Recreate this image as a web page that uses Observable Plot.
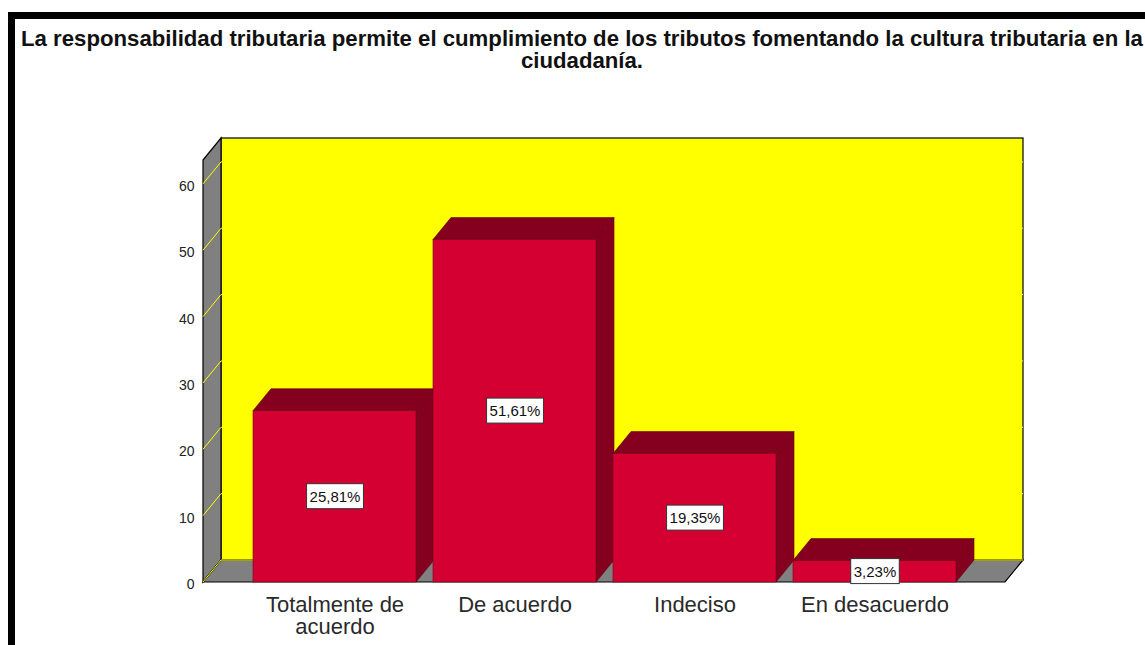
<!DOCTYPE html>
<html><head><meta charset="utf-8">
<script src="https://cdn.jsdelivr.net/npm/d3@7"></script>
<script src="https://cdn.jsdelivr.net/npm/@observablehq/plot@0.6"></script>
<style>
html,body{margin:0;padding:0;background:#fff;overflow:hidden;width:1145px;height:645px;}
#marco{position:absolute;left:8px;top:12px;width:1300px;height:800px;border-top:7px solid #000;border-left:7px solid #000;box-sizing:border-box;}
#titulo{position:absolute;left:15px;top:28px;width:1134px;text-align:center;font-family:"Liberation Sans",Arial,sans-serif;font-weight:bold;font-size:22.2px;line-height:22px;color:#111;white-space:nowrap;}
#grafico{position:absolute;left:0;top:90px;}
</style></head><body>
<div id="marco"></div>
<div id="titulo">La responsabilidad tributaria permite el cumplimiento de los tributos fomentando la cultura tributaria en la<br>ciudadanía.</div>
<div id="grafico"></div>
<script>
const categorias = ["Totalmente de acuerdo", "De acuerdo", "Indeciso", "En desacuerdo"];
const rotulosX = ["Totalmente de\nacuerdo", "De acuerdo", "Indeciso", "En desacuerdo"];
const porcentajes = [25.81, 51.61, 19.35, 3.23];
const etiquetas = ["25,81%", "51,61%", "19,35%", "3,23%"];
const ticksY = [0, 10, 20, 30, 40, 50, 60];
const yMax = 63.6;

const DX = 18, DY = -22;
const FONT = '"Liberation Sans", Arial, sans-serif';
const datos = categorias.map((c, i) => ({categoria: c, porcentaje: porcentajes[i], etiqueta: etiquetas[i], rotulo: rotulosX[i]}));

const pts = a => a.map(p => p.join(",")).join(" ");
let grupoEtiquetas = null;

const paredes = Plot.frame({
  stroke: "none",
  render(index, scales, values, dim) {
    const g = d3.create("svg:g");
    const x0 = dim.marginLeft, x1 = dim.width - dim.marginRight;
    const yb = scales.y(0), yt = scales.y(yMax);
    g.append("rect").attr("x", x0 + DX).attr("y", yt + DY).attr("width", x1 - x0).attr("height", yb - yt)
      .attr("fill", "#ffff00").attr("stroke", "#000").attr("stroke-width", 1.2);
    g.append("polygon").attr("points", pts([[x0, yb], [x0 + DX, yb + DY], [x0 + DX, yt + DY], [x0, yt]]))
      .attr("fill", "#808080").attr("stroke", "#000").attr("stroke-width", 1.2);
    g.append("polygon").attr("points", pts([[x0, yb], [x1, yb], [x1 + DX, yb + DY], [x0 + DX, yb + DY]]))
      .attr("fill", "#808080").attr("stroke", "#000").attr("stroke-width", 1.2);
    for (const t of ticksY) {
      const y = scales.y(t);
      g.append("polyline").attr("points", pts([[x0, y], [x0 + DX, y + DY], [x1 + DX, y + DY]]))
        .attr("fill", "none").attr("stroke", "#ffff00").attr("stroke-width", 1);
    }
    return g.node();
  }
});

const barras = Plot.barY(datos, {
  x: "categoria", y: "porcentaje", fill: "#d50032", stroke: "#6e0018", strokeWidth: 0.6,
  render(index, scales, values, dim, context, next) {
    const g = next(index, scales, values, dim, context);
    for (const r of Array.from(g.querySelectorAll("rect"))) {
      const x = +r.getAttribute("x"), y = +r.getAttribute("y");
      const w = +r.getAttribute("width"), h = +r.getAttribute("height");
      const mk = (p) => {
        const el = document.createElementNS("http://www.w3.org/2000/svg", "polygon");
        el.setAttribute("points", pts(p));
        el.setAttribute("fill", "#85001f");
        el.setAttribute("stroke", "#5a0014");
        el.setAttribute("stroke-width", 0.6);
        r.parentNode.insertBefore(el, r);
      };
      mk([[x, y], [x + w, y], [x + w + DX, y + DY], [x + DX, y + DY]]);
      mk([[x + w, y], [x + w + DX, y + DY], [x + w + DX, y + h + DY], [x + w, y + h]]);
    }
    return g;
  }
});

const chart = Plot.plot({
  width: 1145, height: 555,
  marginLeft: 203, marginRight: 140, marginTop: 70, marginBottom: 63,
  style: {fontFamily: FONT, background: "transparent", overflow: "visible"},
  x: {type: "band", domain: categorias, paddingInner: 0.097, paddingOuter: 0.27, axis: null},
  y: {domain: [0, yMax], axis: null},
  marks: [
    paredes,
    barras,
    Plot.text(ticksY, {y: d => d, text: d => String(d), frameAnchor: "left", textAnchor: "end", dx: -9, dy: 2, fontSize: 14, fill: "#222"}),
    Plot.text(datos, {x: "categoria", text: "rotulo", frameAnchor: "bottom", lineAnchor: "top", dy: 13.5, fontSize: 22, lineHeight: 1.02, fill: "#2a2a2a"}),
    Plot.text(datos, {x: "categoria", y: d => d.porcentaje / 2, text: "etiqueta", fontSize: 15, fill: "#111",
      render(index, scales, values, dim, context, next) { const g = next(index, scales, values, dim, context); grupoEtiquetas = g; return g; }})
  ]
});
document.getElementById("grafico").appendChild(chart);

if (grupoEtiquetas) {
  for (const t of Array.from(grupoEtiquetas.querySelectorAll("text"))) {
    const b = t.getBBox();
    const cy = b.y + b.height / 2;
    const rr = document.createElementNS("http://www.w3.org/2000/svg", "rect");
    rr.setAttribute("x", b.x - 3);
    rr.setAttribute("y", cy - 12.5);
    rr.setAttribute("width", b.width + 6);
    rr.setAttribute("height", 25);
    rr.setAttribute("fill", "#fff");
    rr.setAttribute("stroke", "#333");
    rr.setAttribute("stroke-width", 1);
    if (t.getAttribute("transform")) rr.setAttribute("transform", t.getAttribute("transform"));
    t.parentNode.insertBefore(rr, t);
  }
}
</script>
</body></html>
